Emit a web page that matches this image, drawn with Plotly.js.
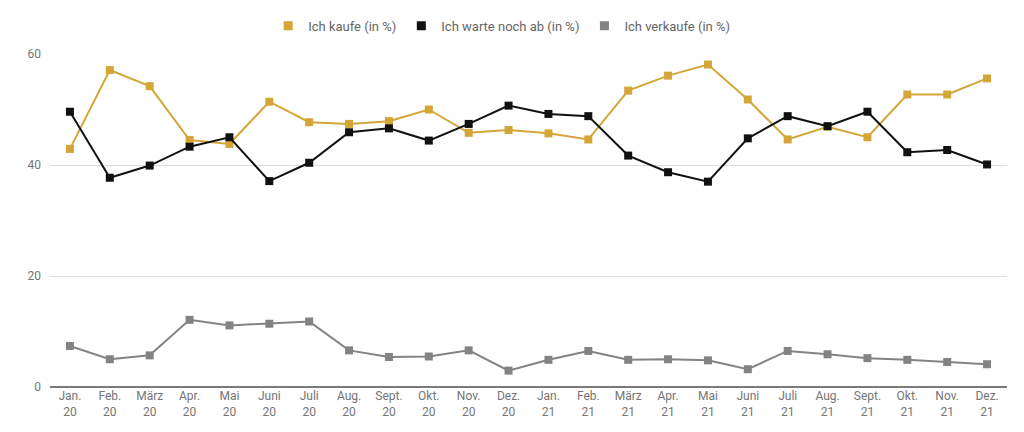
<!DOCTYPE html>
<html>
<head>
<meta charset="utf-8">
<script src="https://cdn.plot.ly/plotly-3.0.1.min.js"></script>
<style>
  html, body { margin: 0; padding: 0; background: #fff; }
  #chart { width: 1024px; height: 432px; }
</style>
</head>
<body>
<div id="chart"></div>
<script>
// Monate (Kategorien)
const monate = [
  'Jan.<br>20', 'Feb.<br>20', 'März<br>20', 'Apr.<br>20', 'Mai<br>20', 'Juni<br>20',
  'Juli<br>20', 'Aug.<br>20', 'Sept.<br>20', 'Okt.<br>20', 'Nov.<br>20', 'Dez.<br>20',
  'Jan.<br>21', 'Feb.<br>21', 'März<br>21', 'Apr.<br>21', 'Mai<br>21', 'Juni<br>21',
  'Juli<br>21', 'Aug.<br>21', 'Sept.<br>21', 'Okt.<br>21', 'Nov.<br>21', 'Dez.<br>21'
];

// Werte in %
const kaufe = [42.9, 57.1, 54.2, 44.5, 43.8, 51.4, 47.7, 47.4, 47.9, 50.0, 45.8, 46.3,
               45.7, 44.6, 53.4, 56.1, 58.1, 51.8, 44.6, 46.9, 45.0, 52.7, 52.7, 55.6];
const warte = [49.6, 37.7, 39.9, 43.3, 45.0, 37.1, 40.4, 45.9, 46.6, 44.4, 47.4, 50.7,
               49.2, 48.8, 41.7, 38.7, 37.0, 44.8, 48.8, 47.0, 49.6, 42.3, 42.7, 40.1];
const verkaufe = [7.4, 5.0, 5.7, 12.1, 11.1, 11.4, 11.8, 6.6, 5.4, 5.5, 6.6, 2.95,
                  4.9, 6.5, 4.9, 5.0, 4.8, 3.2, 6.5, 5.9, 5.2, 4.9, 4.5, 4.1];

const yTicks = [0, 20, 40, 60];

const serien = [
  { name: 'Ich kaufe (in %)', y: kaufe, color: '#D4A537' },
  { name: 'Ich warte noch ab (in %)', y: warte, color: '#111111' },
  { name: 'Ich verkaufe (in %)', y: verkaufe, color: '#838383' }
];

const data = [];
// Linien (ohne Legende)
serien.forEach(s => {
  data.push({
    x: monate,
    y: s.y,
    type: 'scatter',
    mode: 'lines+markers',
    name: s.name,
    showlegend: false,
    line: { color: s.color, width: 2 },
    marker: { color: s.color, symbol: 'square', size: 8 },
    hoverinfo: 'y'
  });
});
// Legendeneinträge nur als Quadrat
serien.forEach(s => {
  data.push({
    x: [monate[0]],
    y: [null],
    type: 'scatter',
    mode: 'markers',
    name: s.name,
    marker: { color: s.color, symbol: 'square', size: 9 },
    hoverinfo: 'skip'
  });
});

const layout = {
  width: 1024,
  height: 432,
  paper_bgcolor: '#fff',
  plot_bgcolor: '#fff',
  margin: { l: 50, r: 17, t: 54, b: 45 },
  font: { family: 'Roboto, sans-serif', size: 12, color: '#757575' },
  showlegend: true,
  legend: {
    orientation: 'h',
    x: 0.472,
    xanchor: 'center',
    y: 0.975,
    yanchor: 'top',
    yref: 'container',
    font: { size: 13, color: '#666' },
    itemwidth: 30,
    tracegroupgap: 0
  },
  xaxis: {
    type: 'category',
    range: [-0.5, 23.5],
    showgrid: false,
    showline: false,
    zeroline: false,
    ticks: '',
    tickfont: { size: 12, color: '#757575' },
    fixedrange: true
  },
  yaxis: {
    range: [0, 60],
    tickvals: yTicks,
    showgrid: true,
    gridcolor: '#dedede',
    gridwidth: 1,
    zeroline: true,
    zerolinecolor: '#7a7a7a',
    zerolinewidth: 1.5,
    ticks: '',
    ticklabelstandoff: 8,
    tickfont: { size: 12, color: '#757575' },
    fixedrange: true
  }
};

Plotly.newPlot('chart', data, layout, { displayModeBar: false, staticPlot: true });
</script>
</body>
</html>
